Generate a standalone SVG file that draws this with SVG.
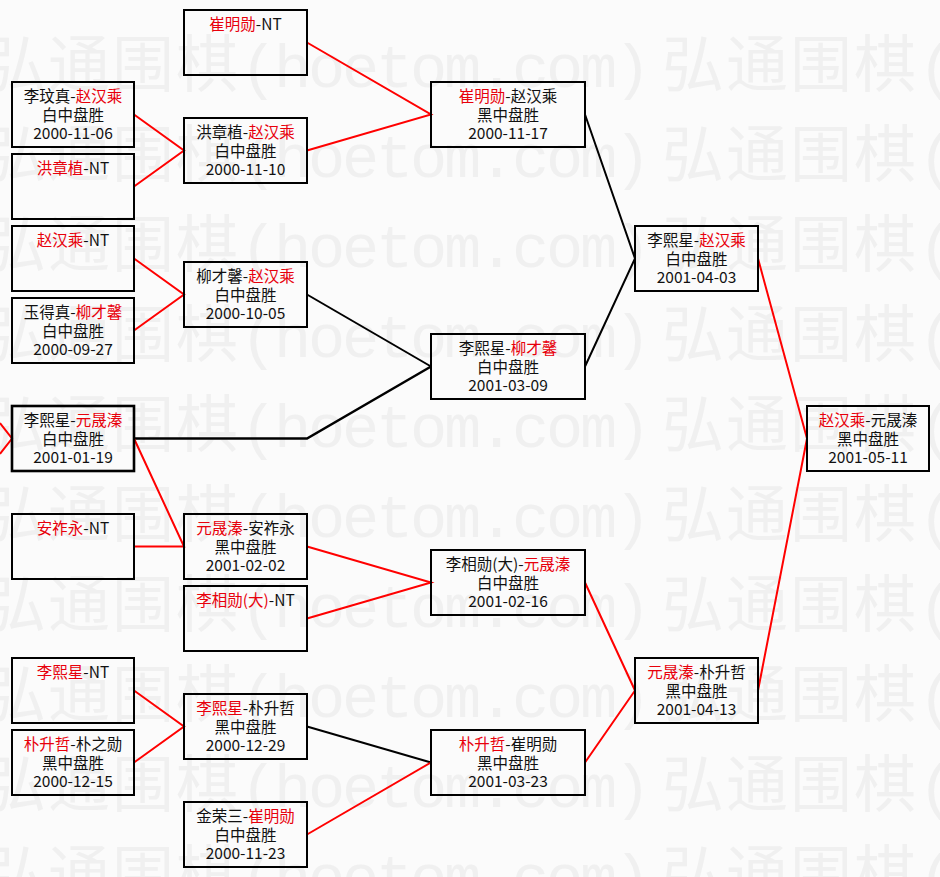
<svg xmlns="http://www.w3.org/2000/svg" width="940" height="877" viewBox="0 0 940 877">
<style>
.bg{fill:#fbfbfb}
.wm{font-family:"Liberation Mono","Noto Sans CJK SC",monospace;font-size:62px;fill:#f0f0f0}
.box{fill:none;stroke:#000;stroke-width:2}
.t{font-family:"Noto Sans CJK SC","Noto Sans",sans-serif;font-size:15.5px;fill:#111;text-anchor:middle}
.r{fill:#e8000b}
.lr{stroke:#f00;stroke-width:2;fill:none}
.lb{stroke:#000;stroke-width:2;fill:none}
</style>
<rect class="bg" x="0" y="0" width="940" height="877"/>
<g id="watermark">
<text class="wm" x="-16 48 112 176 240 274 308 342 376 410 444 478 512 546 580 614 662 726 790 854 918" y="87">弘通围棋(hoetom.com)弘通围棋(</text>
<text class="wm" x="-16 48 112 176 240 274 308 342 376 410 444 478 512 546 580 614 662 726 790 854 918" y="177">弘通围棋(hoetom.com)弘通围棋(</text>
<text class="wm" x="-16 48 112 176 240 274 308 342 376 410 444 478 512 546 580 614 662 726 790 854 918" y="267">弘通围棋(hoetom.com)弘通围棋(</text>
<text class="wm" x="-16 48 112 176 240 274 308 342 376 410 444 478 512 546 580 614 662 726 790 854 918" y="357">弘通围棋(hoetom.com)弘通围棋(</text>
<text class="wm" x="-16 48 112 176 240 274 308 342 376 410 444 478 512 546 580 614 662 726 790 854 918" y="447">弘通围棋(hoetom.com)弘通围棋(</text>
<text class="wm" x="-16 48 112 176 240 274 308 342 376 410 444 478 512 546 580 614 662 726 790 854 918" y="537">弘通围棋(hoetom.com)弘通围棋(</text>
<text class="wm" x="-16 48 112 176 240 274 308 342 376 410 444 478 512 546 580 614 662 726 790 854 918" y="627">弘通围棋(hoetom.com)弘通围棋(</text>
<text class="wm" x="-16 48 112 176 240 274 308 342 376 410 444 478 512 546 580 614 662 726 790 854 918" y="717">弘通围棋(hoetom.com)弘通围棋(</text>
<text class="wm" x="-16 48 112 176 240 274 308 342 376 410 444 478 512 546 580 614 662 726 790 854 918" y="807">弘通围棋(hoetom.com)弘通围棋(</text>
<text class="wm" x="-16 48 112 176 240 274 308 342 376 410 444 478 512 546 580 614 662 726 790 854 918" y="897">弘通围棋(hoetom.com)弘通围棋(</text>
</g>
<g id="connectors">
<polyline class="lr" points="134,114.5 184,150.5 134,186.5"/>
<polyline class="lr" points="307,42.5 431,114.5 307,150.5"/>
<polyline class="lb" points="585,114.5 635,258.5 585,366.5"/>
<polyline class="lr" points="134,258.5 184,294.5 134,330.5"/>
<polyline class="lb" points="307,294.5 431,366.5"/>
<polyline class="lb" points="134,438.5 307,438.5 431,366.5" style="stroke-width:2.5"/>
<polyline class="lr" points="134,438.5 184,546.5 134,546.5"/>
<polyline class="lr" points="307,546.5 431,582.5 307,618.5"/>
<polyline class="lr" points="134,690.5 184,726.5 134,762.5"/>
<polyline class="lb" points="307,726.5 431,762.5"/>
<polyline class="lr" points="307,834.5 431,762.5"/>
<polyline class="lr" points="585,582.5 635,690.5 585,762.5"/>
<polyline class="lr" points="758,258.5 807,438.5 758,690.5"/>
<polyline class="lr" points="0,423 12,438.5 0,454"/>
</g>
<g id="n-a1"><rect class="box" x="12" y="82" width="122" height="65"/><text class="t" x="73" y="101.5">李玟真-<tspan class="r">赵汉乘</tspan></text><text class="t" x="73" y="121">白中盘胜</text><text class="t" x="73" y="139">2000-11-06</text></g>
<g id="n-a2"><rect class="box" x="12" y="154" width="122" height="65"/><text class="t" x="73" y="173.5"><tspan class="r">洪章植</tspan>-NT</text></g>
<g id="n-a3"><rect class="box" x="12" y="226" width="122" height="65"/><text class="t" x="73" y="245.5"><tspan class="r">赵汉乘</tspan>-NT</text></g>
<g id="n-a4"><rect class="box" x="12" y="298" width="122" height="65"/><text class="t" x="73" y="317.5">玉得真-<tspan class="r">柳才馨</tspan></text><text class="t" x="73" y="337">白中盘胜</text><text class="t" x="73" y="355">2000-09-27</text></g>
<g id="n-a5"><rect class="box" x="12" y="406" width="122" height="65" style="stroke-width:2.6"/><text class="t" x="73" y="425.5">李熙星-<tspan class="r">元晟溱</tspan></text><text class="t" x="73" y="445">白中盘胜</text><text class="t" x="73" y="463">2001-01-19</text></g>
<g id="n-a6"><rect class="box" x="12" y="514" width="122" height="65"/><text class="t" x="73" y="533.5"><tspan class="r">安祚永</tspan>-NT</text></g>
<g id="n-a7"><rect class="box" x="12" y="658" width="122" height="65"/><text class="t" x="73" y="677.5"><tspan class="r">李熙星</tspan>-NT</text></g>
<g id="n-a8"><rect class="box" x="12" y="730" width="122" height="65"/><text class="t" x="73" y="749.5"><tspan class="r">朴升哲</tspan>-朴之勋</text><text class="t" x="73" y="769">黑中盘胜</text><text class="t" x="73" y="787">2000-12-15</text></g>
<g id="n-b1"><rect class="box" x="184" y="10" width="123" height="65"/><text class="t" x="245.5" y="29.5"><tspan class="r">崔明勋</tspan>-NT</text></g>
<g id="n-b2"><rect class="box" x="184" y="118" width="123" height="65"/><text class="t" x="245.5" y="137.5">洪章植-<tspan class="r">赵汉乘</tspan></text><text class="t" x="245.5" y="157">白中盘胜</text><text class="t" x="245.5" y="175">2000-11-10</text></g>
<g id="n-b3"><rect class="box" x="184" y="262" width="123" height="65"/><text class="t" x="245.5" y="281.5">柳才馨-<tspan class="r">赵汉乘</tspan></text><text class="t" x="245.5" y="301">白中盘胜</text><text class="t" x="245.5" y="319">2000-10-05</text></g>
<g id="n-b4"><rect class="box" x="184" y="514" width="123" height="65"/><text class="t" x="245.5" y="533.5"><tspan class="r">元晟溱</tspan>-安祚永</text><text class="t" x="245.5" y="553">黑中盘胜</text><text class="t" x="245.5" y="571">2001-02-02</text></g>
<g id="n-b5"><rect class="box" x="184" y="586" width="123" height="65"/><text class="t" x="245.5" y="605.5"><tspan class="r">李相勋(大)</tspan>-NT</text></g>
<g id="n-b6"><rect class="box" x="184" y="694" width="123" height="65"/><text class="t" x="245.5" y="713.5"><tspan class="r">李熙星</tspan>-朴升哲</text><text class="t" x="245.5" y="733">黑中盘胜</text><text class="t" x="245.5" y="751">2000-12-29</text></g>
<g id="n-b7"><rect class="box" x="184" y="802" width="123" height="65"/><text class="t" x="245.5" y="821.5">金荣三-<tspan class="r">崔明勋</tspan></text><text class="t" x="245.5" y="841">白中盘胜</text><text class="t" x="245.5" y="859">2000-11-23</text></g>
<g id="n-c1"><rect class="box" x="431" y="82" width="154" height="65"/><text class="t" x="508" y="101.5"><tspan class="r">崔明勋</tspan>-赵汉乘</text><text class="t" x="508" y="121">黑中盘胜</text><text class="t" x="508" y="139">2000-11-17</text></g>
<g id="n-c2"><rect class="box" x="431" y="334" width="154" height="65"/><text class="t" x="508" y="353.5">李熙星-<tspan class="r">柳才馨</tspan></text><text class="t" x="508" y="373">白中盘胜</text><text class="t" x="508" y="391">2001-03-09</text></g>
<g id="n-c3"><rect class="box" x="431" y="550" width="154" height="65"/><text class="t" x="508" y="569.5">李相勋(大)-<tspan class="r">元晟溱</tspan></text><text class="t" x="508" y="589">白中盘胜</text><text class="t" x="508" y="607">2001-02-16</text></g>
<g id="n-c4"><rect class="box" x="431" y="730" width="154" height="65"/><text class="t" x="508" y="749.5"><tspan class="r">朴升哲</tspan>-崔明勋</text><text class="t" x="508" y="769">黑中盘胜</text><text class="t" x="508" y="787">2001-03-23</text></g>
<g id="n-d1"><rect class="box" x="635" y="226" width="123" height="65"/><text class="t" x="696.5" y="245.5">李熙星-<tspan class="r">赵汉乘</tspan></text><text class="t" x="696.5" y="265">白中盘胜</text><text class="t" x="696.5" y="283">2001-04-03</text></g>
<g id="n-d2"><rect class="box" x="635" y="658" width="123" height="65"/><text class="t" x="696.5" y="677.5"><tspan class="r">元晟溱</tspan>-朴升哲</text><text class="t" x="696.5" y="697">黑中盘胜</text><text class="t" x="696.5" y="715">2001-04-13</text></g>
<g id="n-e1"><rect class="box" x="807" y="406" width="122" height="65"/><text class="t" x="868" y="425.5"><tspan class="r">赵汉乘</tspan>-元晟溱</text><text class="t" x="868" y="445">黑中盘胜</text><text class="t" x="868" y="463">2001-05-11</text></g>
</svg>
